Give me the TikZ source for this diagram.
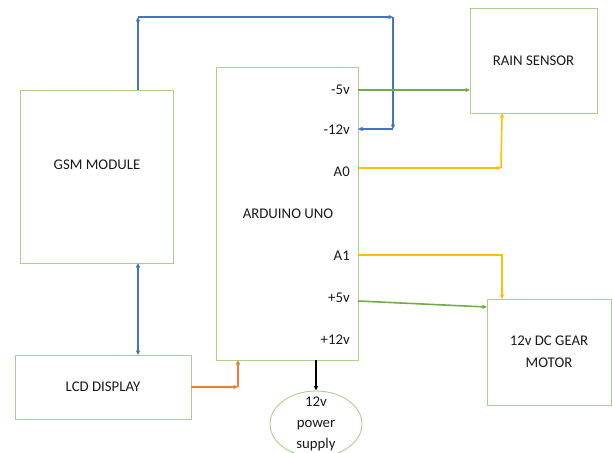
\documentclass[tikz,border=0pt]{standalone}
\usepackage{fontspec}
\setmainfont{Carlito}
\usetikzlibrary{arrows.meta,shapes.geometric}
\definecolor{boxgreen}{HTML}{A9D18E}
\definecolor{lgreen}{HTML}{70AD47}
\definecolor{lblue}{HTML}{4472C4}
\definecolor{lyellow}{HTML}{FFC000}
\definecolor{lorange}{HTML}{ED7D31}
\definecolor{txt}{HTML}{1A1A1A}
\tikzset{
  blk/.style={draw=boxgreen, line width=0.9pt, inner sep=0pt, text=txt, font=\fontsize{14.8}{20}\selectfont},
  lbl/.style={text=txt, font=\fontsize{14.8}{20}\selectfont},
  pin/.style={anchor=east, inner sep=0pt, text=txt, font=\fontsize{14.8}{20}\selectfont},
  tip/.style={-{Triangle[length=4.5pt,width=4pt]}},
  wire/.style={line width=1.6pt},
}
\begin{document}
\begin{tikzpicture}[x=1pt,y=-1pt]
\useasboundingbox (0,0) rectangle (612,452);
% boxes
\node[blk, minimum width=153pt, minimum height=173pt] (gsm) at (96.5,176.5) {};
\node[lbl] (gsmt) at (97,165) {GSM MODULE};
\node[blk, minimum width=142pt, minimum height=293pt] (ard) at (287,213.5) {};
\node[lbl] (ardt) at (288,214) {ARDUINO UNO};
\node[blk, minimum width=127pt, minimum height=105pt] (rain) at (533.5,60.5) {RAIN SENSOR};
\node[blk, minimum width=124pt, minimum height=106pt, align=center, font=\fontsize{14.8}{22}\selectfont] (motor) at (549,352) {12v DC GEAR\\MOTOR};
\node[blk, minimum width=176pt, minimum height=64pt] (lcd) at (103,387) {LCD DISPLAY};
\node[draw=boxgreen, line width=0.9pt, ellipse, minimum width=92pt, minimum height=66pt, inner sep=0pt] (ps) at (316,424) {};
\node[align=center, lbl, font=\fontsize{14.8}{21}\selectfont] (pst) at (316,424) {12v\\power\\supply};
% pin labels
\node[pin] (p5n) at (350,90) {-5v};
\node[pin] (p12n) at (350,130) {-12v};
\node[pin] (pa0) at (350,172) {A0};
\node[pin] (pa1) at (350,256) {A1};
\node[pin] (p5p) at (350,298) {+5v};
\node[pin] (p12p) at (350,340) {+12v};
% coordinates
\coordinate (gtop) at (138,90);
\coordinate (c1) at (138,17);
\coordinate (c2) at (393,17);
\coordinate (c3) at (393,129);
\coordinate (a12) at (358,129);
\coordinate (a5n) at (358,90);
\coordinate (r5n) at (470,90);
\coordinate (a0) at (358,168);
\coordinate (c4) at (501,168);
\coordinate (rb) at (502,113);
\coordinate (a1) at (358,255);
\coordinate (c5) at (502,255);
\coordinate (mt) at (502,299);
\coordinate (a5p) at (358,301);
\coordinate (ml) at (487,307);
\coordinate (gb) at (138,263);
\coordinate (lt) at (138,355);
\coordinate (lr) at (191,387);
\coordinate (c6) at (238,387);
\coordinate (ab) at (238,360);
\coordinate (ab2) at (316,360);
% blue
\draw[wire, lblue, tip] (gtop) -- (c1);
\draw[wire, lblue, tip] (c1) -- (c2);
\draw[wire, lblue, tip] (c2) -- (c3);
\draw[wire, lblue, tip] (c3) -- (a12);
\draw[wire, lblue, {Triangle[length=4.5pt,width=4pt]}-{Triangle[length=4.5pt,width=4pt]}] (gb) -- (lt);
% green
\draw[wire, lgreen, tip] (a5n) -- (r5n);
\draw[wire, lgreen, tip] (a5p) -- (ml);
% yellow
\draw[wire, lyellow, tip] (a0) -- (c4);
\draw[wire, lyellow, tip] (c4) -- (rb);
\draw[wire, lyellow, tip] (a1) -- (c5) -- (mt);
% orange
\draw[wire, lorange, tip] (lr) -- (c6);
\draw[wire, lorange, tip] (c6) -- (ab);
% black
\draw[wire, black, tip] (ab2) -- (ps.north);
\end{tikzpicture}
\end{document}
